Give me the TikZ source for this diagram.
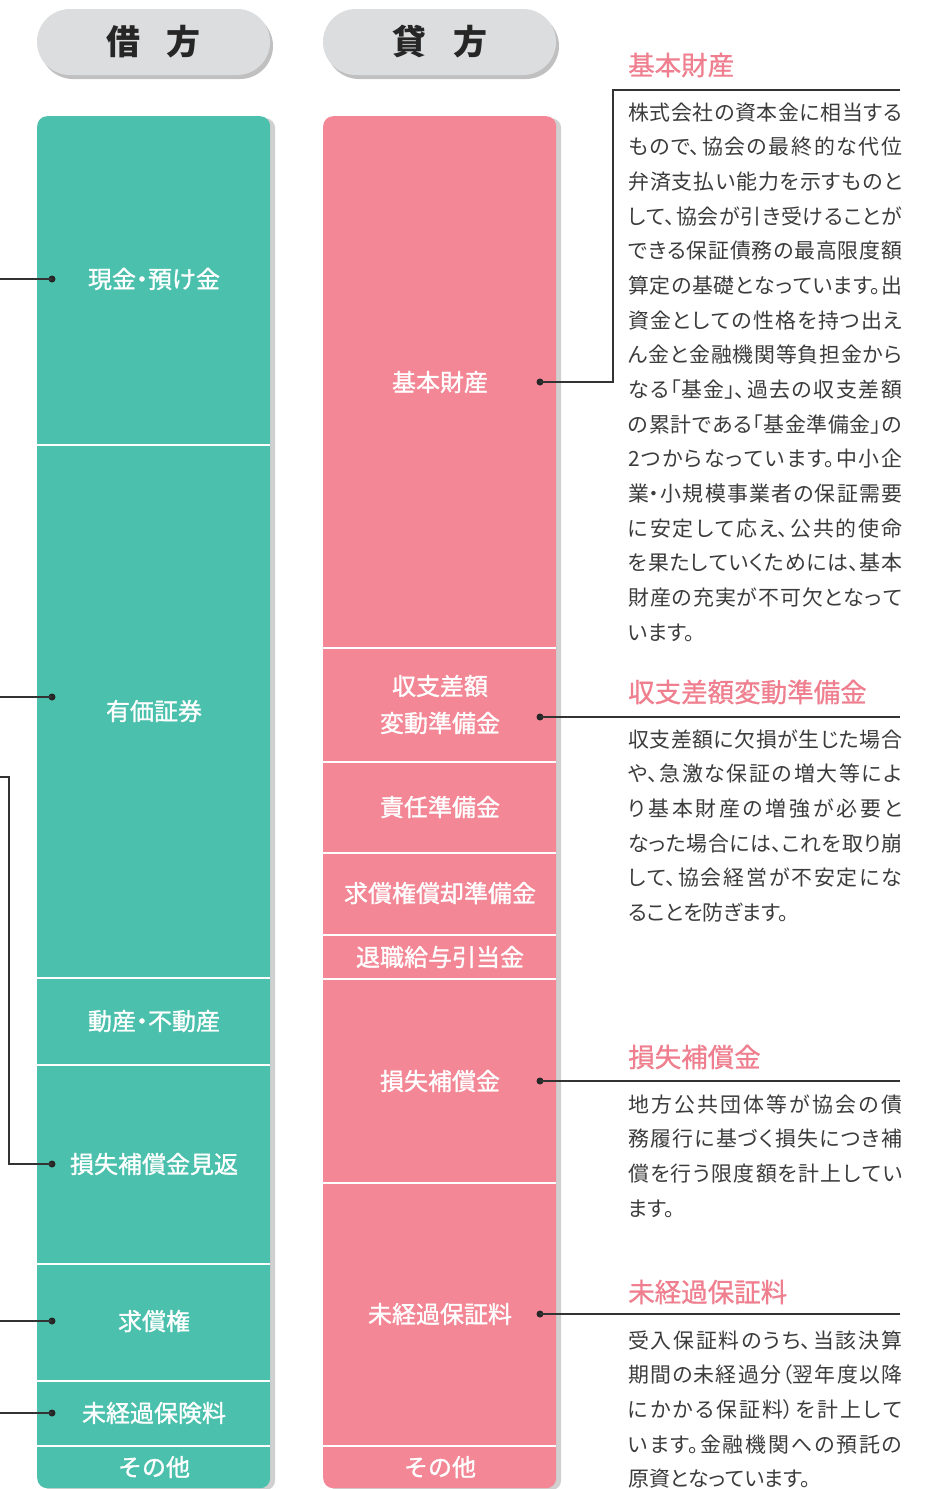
\documentclass[tikz,border=0pt]{standalone}
\usepackage{fontspec}
\usetikzlibrary{shadows}
\newfontfamily\jp[RawFeature=+palt]{Noto Sans CJK JP}
\newfontfamily\jplab[RawFeature=+halt,FakeBold=1.2]{Noto Sans CJK JP}
\newfontfamily\jpttl[RawFeature=+palt,FakeBold=0.8]{Noto Sans CJK JP}
\definecolor{colL}{HTML}{4BC0AC}
\definecolor{colR}{HTML}{F38795}
\definecolor{titlepink}{HTML}{EF7E8E}
\definecolor{pillgray}{HTML}{DCDDDF}
\definecolor{txt}{HTML}{3C3C3C}
\definecolor{lin}{HTML}{333333}
\XeTeXlinebreaklocale "ja"
\XeTeXlinebreakskip=0pt plus 2pt
\newcommand\bodyfont{\jp\fontsize{20.9pt}{34.67pt}\selectfont\setlength{\parindent}{0pt}}
\begin{document}
\begin{tikzpicture}[x=1pt,y=-1pt,
  pill/.style={fill=pillgray, rounded corners=33pt, minimum width=233pt, minimum height=66pt, inner sep=0pt,
    drop shadow={shadow xshift=3pt, shadow yshift=-4pt, opacity=0.35, fill=black!70},
    font=\jp\bfseries\fontsize{34pt}{40pt}\selectfont, text=black!85},
  col/.style={rounded corners=10pt, minimum width=233pt, minimum height=1372pt, inner sep=0pt, anchor=north west,
    drop shadow={shadow xshift=5pt, shadow yshift=-2pt, opacity=0.3, fill=black!60}},
  lab/.style={text=white, font=\jplab\fontsize{24pt}{37pt}\selectfont, align=center, inner sep=0pt},
  div/.style={draw=white, line width=1.3pt},
  dot/.style={circle, fill=black!85, inner sep=0pt, minimum size=7pt},
  conn/.style={draw=lin, line width=1.2pt},
  ttl/.style={anchor=west, inner sep=0pt, text=titlepink, font=\jpttl\fontsize{26.5pt}{30pt}\selectfont},
  body/.style={anchor=base west, inner sep=0pt, text width=274pt, align=justify, text=txt,
    font=\bodyfont}
]
\useasboundingbox (0,0) rectangle (931,1489);
\fill[white] (0,0) rectangle (931,1489);

% headers
\node[pill] (hL) at (153.5,42) {借\hspace{27pt}方};
\node[pill] (hR) at (439.5,42) {貸\hspace{27pt}方};

% columns
\node[col, fill=colL] (colLeft) at (37,116) {};
\node[col, fill=colR] (colRight) at (323,116) {};

% dividers left
\foreach \yy in {445,978,1065,1264,1381,1446}
  \draw[div] (37,\yy) -- (270,\yy);
% dividers right
\foreach \yy in {648,762,853,935,979,1183,1446}
  \draw[div] (323,\yy) -- (556,\yy);

% left labels
\node[lab] (L1) at (154,279) {現金・預け金};
\node[lab] (L2) at (154,711) {有価証券};
\node[lab] (L3) at (154,1021) {動産・不動産};
\node[lab] (L4) at (154,1164) {損失補償金見返};
\node[lab] (L5) at (154,1321) {求償権};
\node[lab] (L6) at (154,1413) {未経過保険料};
\node[lab] (L7) at (154,1467) {その他};

% right labels
\node[lab] (R1) at (440,382) {基本財産};
\node[lab] (R2) at (440,704.5) {収支差額\\変動準備金};
\node[lab] (R3) at (440,807) {責任準備金};
\node[lab] (R4) at (440,893) {求償権償却準備金};
\node[lab] (R5) at (440,957) {退職給与引当金};
\node[lab] (R6) at (440,1081) {損失補償金};
\node[lab] (R7) at (440,1314) {未経過保証料};
\node[lab] (R8) at (440,1467) {その他};

% coordinates for connectors
\coordinate (eL1) at (0,279);
\coordinate (eL2) at (0,697);
\coordinate (eL3) at (0,777);
\coordinate (bL3a) at (9,777);
\coordinate (bL3b) at (9,1164);
\coordinate (eL5) at (0,1321);
\coordinate (eL6) at (0,1413);
\coordinate (k1) at (613,90);
\coordinate (k2) at (900,90);
\coordinate (eR2) at (900,717);
\coordinate (eR6) at (900,1081);
\coordinate (eR7) at (900,1314);

% dots
\node[dot] (dL1) at (52,279) {};
\node[dot] (dL2) at (52,697) {};
\node[dot] (dL3) at (52,1164) {};
\node[dot] (dL5) at (52,1321) {};
\node[dot] (dL6) at (52,1413) {};
\node[dot] (dR1) at (540,382) {};
\node[dot] (dR2) at (540,717) {};
\node[dot] (dR6) at (540,1081) {};
\node[dot] (dR7) at (540,1314) {};

% connectors
\draw[conn] (eL1) -- (dL1.center);
\draw[conn] (eL2) -- (dL2.center);
\draw[conn] (eL3) -- (bL3a) -- (bL3b) -- (dL3.center);
\draw[conn] (eL5) -- (dL5.center);
\draw[conn] (eL6) -- (dL6.center);
\draw[conn] (dR1.center) -- (dR1.center -| k1) -- (k1) -- (k2);
\draw[conn] (dR2.center) -- (eR2);
\draw[conn] (dR6.center) -- (eR6);
\draw[conn] (dR7.center) -- (eR7);

% titles
\node[ttl] (T1) at (628,65) {基本財産};
\node[ttl] (T2) at (628,692) {収支差額変動準備金};
\node[ttl] (T3) at (628,1057) {損失補償金};
\node[ttl] (T4) at (628,1292) {未経過保証料};

% bodies
\node[body] (B1) at (628,120) {株式会社の資本金に相当する\linebreak
もので、協会の最終的な代位\linebreak
弁済支払い能力を示すものと\linebreak
して、協会が引き受けることが\linebreak
できる保証債務の最高限度額\linebreak
算定の基礎となっています。出\linebreak
資金としての性格を持つ出え\linebreak
ん金と金融機関等負担金から\linebreak
なる「基金」、過去の収支差額\linebreak
の累計である「基金準備金」の\linebreak
2つからなっています。中小企\linebreak
業・小規模事業者の保証需要\linebreak
に安定して応え、公共的使命\linebreak
を果たしていくためには、基本\linebreak
財産の充実が不可欠となって\linebreak
います。};

\node[body] (B2) at (628,747) {収支差額に欠損が生じた場合\linebreak
や、急激な保証の増大等によ\linebreak
り基本財産の増強が必要と\linebreak
なった場合には、これを取り崩\linebreak
して、協会経営が不安定にな\linebreak
ることを防ぎます。};

\node[body] (B3) at (628,1112) {地方公共団体等が協会の債\linebreak
務履行に基づく損失につき補\linebreak
償を行う限度額を計上してい\linebreak
ます。};

\node[body] (B4) at (628,1348) {受入保証料のうち、当該決算\linebreak
期間の未経過分（翌年度以降\linebreak
にかかる保証料）を計上して\linebreak
います。金融機関への預託の\linebreak
原資となっています。};
\end{tikzpicture}
\end{document}
